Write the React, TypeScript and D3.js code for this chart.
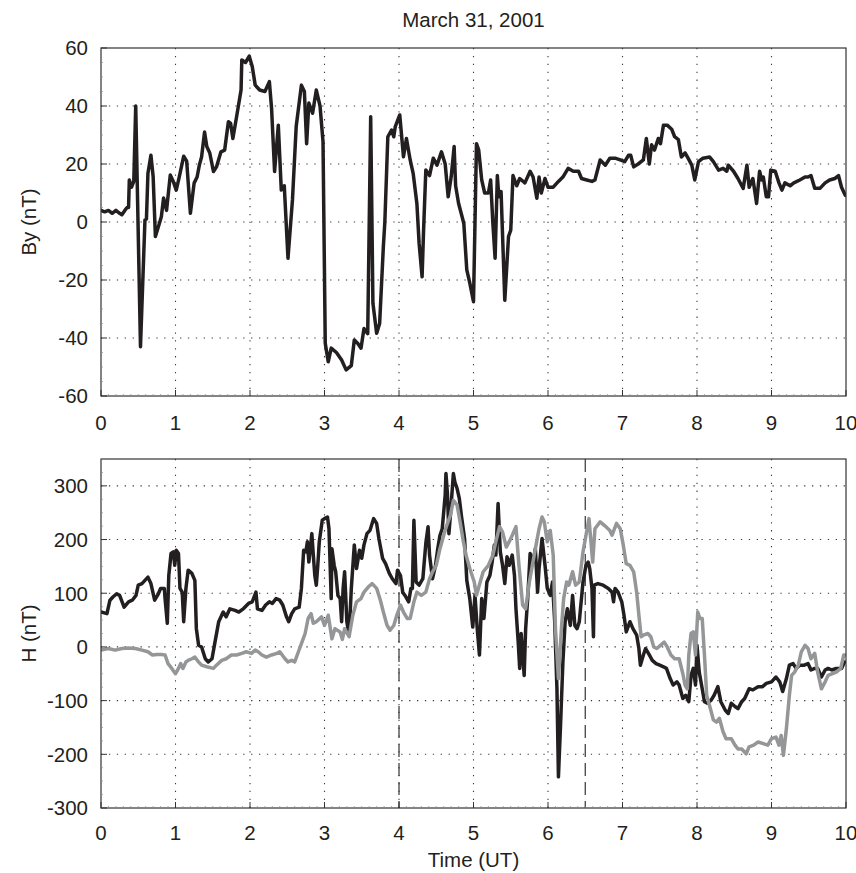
import React from 'react';
import * as d3 from 'd3';

const W = 856;
const H = 873;
const plotLeft = 101;
const plotRight = 846;

// tick values
const timeTicks = [0, 1, 2, 3, 4, 5, 6, 7, 8, 9, 10];
const byTicks = [-60, -40, -20, 0, 20, 40, 60];
const hTicks = [-300, -200, -100, 0, 100, 200, 300];
const eventTimes = [4, 6.5];

// By (nT) vs time (UT hours)
const byData: [number, number][] = [
  [0, 4], [0.05, 3.5], [0.1, 4], [0.15, 3], [0.2, 4], [0.25, 3], [0.28, 2.5], [0.32, 4], [0.35, 5], [0.37, 5],
  [0.38, 14.5], [0.41, 12], [0.44, 14], [0.466, 40], [0.53, -43], [0.59, 0.7], [0.61, 1], [0.63, 16.8], [0.67, 23],
  [0.7, 15.6], [0.73, -5], [0.77, -1.6], [0.81, 1.8], [0.84, 8.3], [0.88, 4], [0.93, 16.2], [0.97, 14], [1.01, 11],
  [1.05, 15.5], [1.11, 22.7], [1.15, 21], [1.2, 3], [1.25, 13.4], [1.29, 15.5], [1.32, 19.6], [1.35, 22.4], [1.39, 31],
  [1.42, 26], [1.46, 23.8], [1.51, 17.4], [1.55, 19], [1.61, 24.2], [1.66, 24.8], [1.71, 34.6], [1.74, 34], [1.77, 28.8],
  [1.82, 36.3], [1.88, 45.5], [1.89, 55.9], [1.94, 55], [1.99, 57.2], [2.03, 53.6], [2.07, 47.2], [2.13, 45.5], [2.2, 45],
  [2.26, 48.4], [2.29, 39], [2.33, 17.4], [2.38, 33.4], [2.42, 11], [2.46, 12.5], [2.51, -12.5], [2.57, 7.6], [2.62, 32.9],
  [2.69, 47.2], [2.73, 45], [2.76, 27], [2.79, 41], [2.84, 37.5], [2.89, 45.5], [2.94, 40], [2.98, 27.7], [3.01, -41.8],
  [3.05, -48.2], [3.09, -43.5], [3.16, -45], [3.23, -47.6], [3.29, -51], [3.36, -49.5], [3.4, -40.7], [3.45, -42],
  [3.49, -43.5], [3.53, -36.7], [3.58, -38.5], [3.62, 36.3], [3.65, -28], [3.7, -38.4], [3.74, -35], [3.79, -8.5],
  [3.81, 0], [3.85, 29.4], [3.9, 31.7], [3.93, 29.4], [3.95, 32.9], [4.01, 36.9], [4.06, 22.5], [4.1, 28.8], [4.15, 21.4],
  [4.19, 16.8], [4.24, 6.4], [4.27, -7.4], [4.31, -18.9], [4.33, -2.8], [4.36, 17.9], [4.41, 16], [4.46, 22], [4.51, 19.6],
  [4.57, 24.2], [4.62, 20], [4.66, 8.7], [4.7, 15.5], [4.74, 26], [4.76, 12.5], [4.8, 6.4], [4.84, 2.5], [4.87, -0.5],
  [4.91, -16.5], [4.95, -21], [5.0, -27.5], [5.04, 27], [5.07, 24.8], [5.11, 14.5], [5.15, 10], [5.2, 10], [5.23, 14.5],
  [5.26, -0.5], [5.29, -12.5], [5.32, 16], [5.34, 8.7], [5.37, 10.5], [5.42, -27], [5.47, -5], [5.5, -2.8], [5.53, 16],
  [5.58, 12.5], [5.62, 15], [5.69, 13.5], [5.76, 17.5], [5.8, 15.5], [5.85, 8.2], [5.88, 15.5], [5.91, 10], [5.96, 15],
  [6.0, 12], [6.07, 12], [6.14, 14], [6.2, 15.5], [6.27, 18.5], [6.34, 17.5], [6.41, 17.5], [6.45, 15], [6.52, 14.5],
  [6.59, 14], [6.63, 14.5], [6.7, 21.4], [6.77, 19.6], [6.83, 22], [6.9, 22], [6.97, 21.4], [7.03, 20.8], [7.08, 23],
  [7.11, 23], [7.15, 19], [7.21, 20], [7.28, 21.4], [7.32, 28.8], [7.36, 20], [7.39, 26.6], [7.43, 24.8], [7.48, 28.8],
  [7.51, 27], [7.55, 33.4], [7.6, 33.4], [7.66, 32], [7.7, 29.4], [7.75, 28.4], [7.79, 22.4], [7.84, 23.8], [7.88, 22],
  [7.93, 19.6], [7.97, 14.5], [8.02, 20.8], [8.08, 22], [8.17, 22.4], [8.22, 20.8], [8.29, 17.9], [8.35, 18.5], [8.4, 17.5],
  [8.42, 19.6], [8.49, 17.5], [8.55, 15], [8.62, 11.6], [8.67, 19.6], [8.7, 12], [8.75, 15], [8.8, 6.4], [8.84, 17.5],
  [8.87, 14.5], [8.89, 15.5], [8.93, 8.7], [8.96, 8.7], [8.99, 17.9], [9.05, 17.5], [9.1, 13.5], [9.14, 11], [9.18, 13.5],
  [9.25, 12.5], [9.3, 13.5], [9.38, 14.5], [9.45, 15.5], [9.49, 15.5], [9.53, 16], [9.58, 11.6], [9.65, 11.6], [9.72, 13.5],
  [9.78, 14.5], [9.85, 15], [9.9, 16], [9.94, 12], [9.99, 9.2],
];

// H (nT), black trace
const hBlackData: [number, number][] = [
  [0, 65], [0.08, 62], [0.12, 87], [0.16, 93], [0.21, 99], [0.25, 96], [0.31, 74], [0.37, 84], [0.42, 87], [0.47, 96],
  [0.5, 115], [0.55, 118], [0.59, 124], [0.63, 130], [0.67, 118], [0.72, 87], [0.77, 99], [0.8, 109], [0.85, 109],
  [0.86, 90], [0.89, 44], [0.91, 133], [0.94, 174], [0.97, 177], [0.99, 152], [1.01, 180], [1.04, 174], [1.06, 109],
  [1.09, 102], [1.11, 47], [1.14, 109], [1.17, 143], [1.22, 137], [1.26, 124], [1.28, 34], [1.31, 3], [1.35, 0],
  [1.4, -22], [1.44, -28], [1.49, -22], [1.53, 9], [1.58, 47], [1.64, 65], [1.68, 56], [1.73, 71], [1.8, 68], [1.85, 65],
  [1.91, 71], [1.98, 81], [2.03, 84], [2.08, 102], [2.1, 71], [2.16, 68], [2.21, 78], [2.26, 84], [2.3, 81], [2.35, 90],
  [2.4, 87], [2.44, 78], [2.49, 56], [2.52, 47], [2.56, 62], [2.6, 71], [2.66, 74], [2.69, 109], [2.72, 180], [2.75, 177],
  [2.77, 196], [2.79, 158], [2.83, 211], [2.85, 171], [2.87, 133], [2.89, 115], [2.91, 152], [2.93, 196], [2.97, 236],
  [3.0, 239], [3.04, 242], [3.06, 220], [3.09, 90], [3.1, 183], [3.13, 152], [3.15, 140], [3.18, 96], [3.21, 90],
  [3.23, 47], [3.25, 109], [3.27, 140], [3.3, 47], [3.33, 22], [3.36, 109], [3.4, 190], [3.43, 146], [3.47, 180],
  [3.5, 165], [3.53, 190], [3.57, 211], [3.61, 217], [3.66, 239], [3.7, 230], [3.73, 202], [3.78, 165], [3.82, 155],
  [3.87, 137], [3.91, 127], [3.96, 118], [3.98, 143], [4.02, 133], [4.05, 102], [4.08, 96], [4.13, 84], [4.16, 109],
  [4.18, 109], [4.2, 236], [4.23, 121], [4.27, 115], [4.32, 127], [4.36, 193], [4.39, 224], [4.41, 171], [4.45, 127],
  [4.49, 152], [4.52, 183], [4.55, 208], [4.58, 220], [4.6, 251], [4.62, 283], [4.63, 323], [4.65, 286], [4.67, 211],
  [4.69, 245], [4.73, 323], [4.75, 307], [4.78, 295], [4.81, 276], [4.84, 242], [4.88, 202], [4.91, 124], [4.95, 90],
  [4.99, 37], [5.02, 96], [5.05, 34], [5.08, -15], [5.11, 90], [5.14, 53], [5.18, 121], [5.22, 133], [5.25, 158],
  [5.28, 190], [5.3, 171], [5.33, 267], [5.36, 177], [5.39, 152], [5.42, 118], [5.45, 168], [5.48, 152], [5.52, 171],
  [5.55, 133], [5.57, 71], [5.6, 9], [5.62, -40], [5.64, 25], [5.68, -53], [5.7, 34], [5.73, 96], [5.76, 174], [5.8, 158],
  [5.83, 183], [5.86, 102], [5.88, 146], [5.92, 202], [5.96, 152], [5.99, 109], [6.03, 96], [6.06, 121], [6.09, 47],
  [6.12, -78], [6.14, -242], [6.17, -140], [6.2, -28], [6.23, 47], [6.26, 71], [6.3, 40], [6.33, 96], [6.36, 40],
  [6.39, 34], [6.42, 47], [6.47, 121], [6.51, 152], [6.54, 158], [6.56, 146], [6.59, 109], [6.61, 19], [6.62, 115],
  [6.67, 118], [6.74, 115], [6.81, 109], [6.86, 102], [6.88, 84], [6.9, 109], [6.94, 102], [6.99, 84], [7.02, 59],
  [7.05, 28], [7.1, 47], [7.14, 34], [7.19, 22], [7.22, -3], [7.24, -34], [7.28, -15], [7.31, -3], [7.36, -15], [7.4, -25],
  [7.45, -31], [7.5, -34], [7.55, -37], [7.59, -40], [7.64, -59], [7.68, -71], [7.73, -65], [7.76, -71], [7.81, -96],
  [7.85, -90], [7.89, -102], [7.92, -53], [7.95, -40], [7.98, -71], [8.0, 3], [8.03, -47], [8.07, -78], [8.1, -102],
  [8.14, -105], [8.19, -99], [8.23, -90], [8.28, -74], [8.32, -102], [8.38, -118], [8.42, -124], [8.46, -105], [8.51, -111],
  [8.55, -115], [8.6, -102], [8.64, -96], [8.7, -78], [8.75, -80], [8.82, -74], [8.88, -74], [8.93, -68], [9.0, -65],
  [9.06, -56], [9.11, -65], [9.15, -83], [9.2, -59], [9.24, -34], [9.29, -31], [9.33, -40], [9.38, -34], [9.44, -34],
  [9.49, -31], [9.53, -43], [9.58, -40], [9.62, -40], [9.67, -56], [9.72, -43], [9.76, -40], [9.81, -43], [9.87, -40],
  [9.94, -40], [9.98, -28],
];

// H (nT), grey trace
const hGreyData: [number, number][] = [
  [0, -6], [0.1, -3], [0.19, -6], [0.28, -3], [0.37, -2], [0.46, -3], [0.55, -6], [0.63, -9], [0.69, -15], [0.75, -14],
  [0.81, -14], [0.86, -15], [0.9, -31], [0.95, -40], [1.0, -50], [1.04, -40], [1.07, -31], [1.1, -40], [1.14, -28],
  [1.17, -25], [1.22, -22], [1.26, -19], [1.31, -28], [1.35, -34], [1.42, -37], [1.51, -40], [1.55, -34], [1.62, -25],
  [1.68, -22], [1.75, -15], [1.82, -15], [1.89, -12], [1.95, -9], [2.02, -12], [2.07, -6], [2.11, -9], [2.16, -15],
  [2.22, -19], [2.29, -15], [2.36, -12], [2.4, -9], [2.47, -22], [2.51, -28], [2.56, -25], [2.6, -28], [2.65, -9],
  [2.69, 6], [2.74, 25], [2.78, 53], [2.82, 62], [2.85, 44], [2.89, 47], [2.96, 56], [3.0, 40], [3.05, 59], [3.1, 15],
  [3.14, 34], [3.21, 28], [3.24, 14], [3.27, 34], [3.33, 19], [3.38, 59], [3.43, 84], [3.49, 90], [3.53, 102], [3.59, 112],
  [3.64, 118], [3.7, 109], [3.75, 87], [3.79, 65], [3.84, 40], [3.88, 31], [3.93, 40], [3.97, 59], [4.02, 78], [4.06, 65],
  [4.11, 53], [4.15, 53], [4.2, 84], [4.24, 102], [4.3, 96], [4.36, 102], [4.41, 127], [4.45, 140], [4.5, 152],
  [4.55, 183], [4.6, 208], [4.64, 226], [4.69, 245], [4.73, 273], [4.78, 264], [4.82, 233], [4.86, 199], [4.9, 171],
  [4.95, 146], [5.01, 121], [5.04, 96], [5.09, 121], [5.13, 140], [5.2, 152], [5.26, 171], [5.3, 196], [5.35, 224],
  [5.39, 214], [5.44, 186], [5.48, 196], [5.52, 208], [5.57, 224], [5.61, 152], [5.66, 78], [5.7, 71], [5.75, 121],
  [5.79, 152], [5.84, 190], [5.88, 220], [5.92, 242], [5.95, 233], [5.99, 196], [6.03, 217], [6.07, 171], [6.1, 34],
  [6.14, -59], [6.18, 34], [6.21, 90], [6.25, 121], [6.28, 115], [6.33, 140], [6.37, 115], [6.42, 121], [6.47, 177],
  [6.51, 208], [6.55, 239], [6.6, 158], [6.63, 220], [6.7, 233], [6.76, 226], [6.83, 217], [6.86, 208], [6.92, 230],
  [6.97, 220], [7.01, 190], [7.05, 155], [7.1, 152], [7.15, 140], [7.19, 102], [7.22, 59], [7.25, 19], [7.28, 22],
  [7.34, 25], [7.38, 19], [7.42, 0], [7.46, -3], [7.51, 3], [7.56, 9], [7.6, 0], [7.65, -15], [7.7, -22], [7.76, -22],
  [7.81, -50], [7.84, -71], [7.87, -78], [7.89, -15], [7.92, 25], [7.95, 28], [7.98, -15], [8.01, 65], [8.04, 53],
  [8.07, 53], [8.1, -15], [8.13, -90], [8.18, -115], [8.22, -136], [8.26, -140], [8.3, -133], [8.35, -158], [8.39, -171],
  [8.46, -171], [8.51, -183], [8.55, -190], [8.6, -190], [8.66, -199], [8.7, -186], [8.76, -183], [8.82, -177],
  [8.89, -180], [8.95, -183], [9.0, -171], [9.06, -168], [9.1, -183], [9.13, -165], [9.16, -202], [9.2, -152], [9.24, -90],
  [9.27, -53], [9.31, -47], [9.36, -34], [9.4, -9], [9.45, 3], [9.49, -3], [9.53, -22], [9.58, -12], [9.62, -47],
  [9.67, -78], [9.72, -65], [9.76, -53], [9.81, -50], [9.87, -47], [9.93, -40], [9.97, -15], [10, -15],
];

const font = '"Liberation Sans", Arial, Helvetica, sans-serif';
const ink = '#231f20';
const axisColor = '#333';
const gridColor = '#3a3a3a';
const fontSize = 20.5;

const x = d3.scaleLinear().domain([0, 10]).range([plotLeft, plotRight]);

type Series = { data: [number, number][]; color: string; width: number };

function Panel(props: {
  top: number;
  bottom: number;
  yDomain: [number, number];
  yTicks: number[];
  yMinorStep: number;
  label: string;
  series: Series[];
  markers?: number[];
  xLabelOffset: number;
}) {
  const { top, bottom, yDomain, yTicks, yMinorStep, label, series, markers, xLabelOffset } = props;
  const y = d3.scaleLinear().domain(yDomain).range([bottom, top]);
  const line = d3.line<[number, number]>().x(d => x(d[0])).y(d => y(d[1]));
  const xMinor = d3.range(0, 10.001, 0.1).filter(v => Math.abs(v - Math.round(v)) > 0.01);
  const yMinor = d3.range(yDomain[0], yDomain[1] + 0.001, yMinorStep).filter(v => !yTicks.includes(v));
  const clipId = `clip-${top}`;
  return (
    <g>
      <defs>
        <clipPath id={clipId}>
          <rect x={plotLeft} y={top} width={plotRight - plotLeft} height={bottom - top} />
        </clipPath>
      </defs>
      {/* dotted grid */}
      <g stroke={gridColor} strokeWidth={1.1} strokeDasharray="1.3 6.6">
        {timeTicks.filter(t => t > 0 && t < 10).map(t => (
          <line key={'gx' + t} x1={x(t)} x2={x(t)} y1={top} y2={bottom} />
        ))}
        {yTicks.filter(v => v > yDomain[0] && v < yDomain[1]).map(v => (
          <line key={'gy' + v} x1={plotLeft} x2={plotRight} y1={y(v)} y2={y(v)} />
        ))}
      </g>
      {markers && (
        <g stroke="#333" strokeWidth={1.2} strokeDasharray="13 6">
          {markers.map(t => (
            <line key={'m' + t} x1={x(t)} x2={x(t)} y1={top} y2={bottom} />
          ))}
        </g>
      )}
      <g clipPath={`url(#${clipId})`} fill="none" strokeLinejoin="round" strokeLinecap="round">
        {series.map((s, i) => (
          <path key={i} d={line(s.data) || ''} stroke={s.color} strokeWidth={s.width} />
        ))}
      </g>
      {/* box */}
      <rect x={plotLeft} y={top} width={plotRight - plotLeft} height={bottom - top}
        fill="none" stroke={axisColor} strokeWidth={1.2} />
      {/* ticks */}
      <g stroke={axisColor} strokeWidth={1}>
        {timeTicks.map(t => (
          <line key={'tx' + t} x1={x(t)} x2={x(t)} y1={bottom} y2={bottom - 6} />
        ))}
        {yTicks.map(v => (
          <line key={'ty' + v} x1={plotLeft} x2={plotLeft + 6} y1={y(v)} y2={y(v)} />
        ))}
      </g>
      <g stroke="#888" strokeWidth={0.7}>
        {xMinor.map(t => (
          <line key={'mx' + t} x1={x(t)} x2={x(t)} y1={bottom} y2={bottom - 2} />
        ))}
        {yMinor.map(v => (
          <line key={'my' + v} x1={plotLeft} x2={plotLeft + 2} y1={y(v)} y2={y(v)} />
        ))}
      </g>
      {/* tick labels */}
      <g fontFamily={font} fontSize={fontSize} fill={ink}>
        {timeTicks.map(t => (
          <text key={'lx' + t} x={x(t)} y={bottom + xLabelOffset} textAnchor="middle">{t}</text>
        ))}
        {yTicks.map(v => (
          <text key={'ly' + v} x={plotLeft - 13} y={y(v)} dy="0.36em" textAnchor="end">{v}</text>
        ))}
      </g>
      <text transform={`translate(36,${(top + bottom) / 2}) rotate(-90)`} textAnchor="middle"
        fontFamily={font} fontSize={fontSize} fill={ink}>{label}</text>
    </g>
  );
}

export default function App() {
  return (
    <div style={{ position: 'absolute', left: 0, top: 0 }}>
      <svg width={W} height={H} style={{ display: 'block', background: '#fff' }}>
        <text x={(plotLeft + plotRight) / 2} y={27} textAnchor="middle" fontFamily={font} fontSize={fontSize} fill={ink}>
          March 31, 2001
        </text>
        <Panel top={48} bottom={396} yDomain={[-60, 60]} yTicks={byTicks} yMinorStep={5}
          label="By (nT)" xLabelOffset={34}
          series={[{ data: byData, color: ink, width: 3.5 }]} />
        <Panel top={459} bottom={808} yDomain={[-300, 350]} yTicks={hTicks} yMinorStep={25}
          label="H (nT)" xLabelOffset={32} markers={eventTimes}
          series={[
            { data: hBlackData, color: ink, width: 3.5 },
            { data: hGreyData, color: '#949698', width: 3.5 },
          ]} />
        <text x={(plotLeft + plotRight) / 2} y={867} textAnchor="middle" fontFamily={font} fontSize={fontSize} fill={ink}>
          Time (UT)
        </text>
      </svg>
    </div>
  );
}
